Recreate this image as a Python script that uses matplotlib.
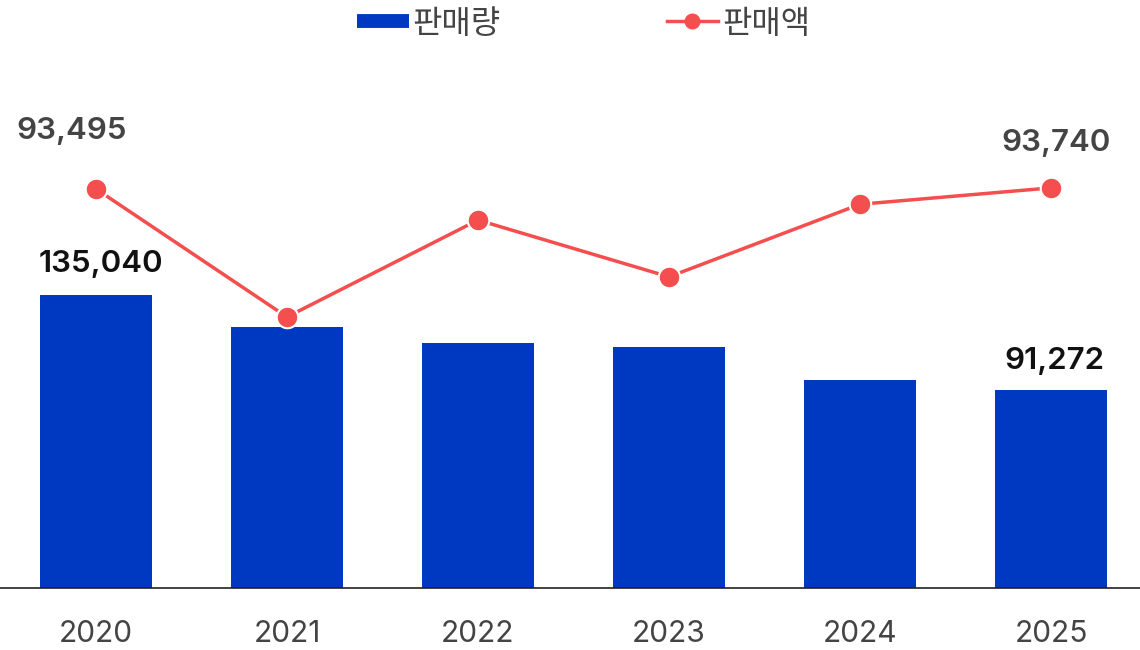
import matplotlib
matplotlib.use("Agg")
import matplotlib.pyplot as plt
from matplotlib.lines import Line2D

plt.rcParams['font.family'] = ['Inter', 'Noto Sans CJK KR', 'DejaVu Sans']

years = ['2020', '2021', '2022', '2023', '2024', '2025']
volume = [135040, 120300, 112900, 111100, 95900, 91272]
amount = [93495, 63500, 86200, 72900, 89900, 93740]
vol_label = '판매량'
amt_label = '판매액'

BLUE = '#0039C1'
RED = '#F54E4E'
TXT = '#444444'

fig = plt.figure(figsize=(11.4, 6.5), dpi=100)
ax = fig.add_axes([0, 62/650, 1.0, 528/650])
ax2 = ax.twinx()

x = list(range(len(years)))
ax.bar(x, volume, width=0.586, color=BLUE, zorder=2)
ax.set_xlim(-0.5026, 5.466)
ax.set_ylim(0, 243350)
ax2.set_ylim(0, 123700)

ax2.plot(x, amount, color=RED, lw=2.5, marker='o', markersize=15.5,
         markerfacecolor=RED, markeredgecolor='white', markeredgewidth=1.5, zorder=3)

for a in (ax, ax2):
    for s in ['top', 'right', 'left']:
        a.spines[s].set_visible(False)
    a.set_yticks([])
ax2.spines['bottom'].set_visible(False)
ax.spines['bottom'].set_color('#222222')
ax.spines['bottom'].set_linewidth(1.2)

ax.set_xticks(x)
ax.set_xticklabels(years, fontsize=21.5, color=TXT)
ax.tick_params(axis='x', length=0, pad=23)

px = 0.72
# bar labels (first and last)
for i, dx, dy in [(0, 5, 31), (5, 3, 29)]:
    ax.annotate(f'{volume[i]:,}', (x[i], volume[i]), xytext=(dx*px, dy*px),
                textcoords='offset points', ha='center', va='center',
                fontsize=22.5, fontweight='semibold', color='#111111')
# line labels (first and last)
for i, dx, dy in [(0, -24, 58), (5, 5, 45)]:
    ax2.annotate(f'{amount[i]:,}', (x[i], amount[i]), xytext=(dx*px, dy*px),
                 textcoords='offset points', ha='center', va='center',
                 fontsize=22.5, fontweight='semibold', color=TXT)

handles = [
    Line2D([0], [0], color=BLUE, lw=10, solid_capstyle='butt'),
    Line2D([0], [0], color=RED, lw=2.5, marker='o', markersize=10.5,
           markerfacecolor=RED, markeredgecolor=RED),
]
leg = fig.legend(handles, [vol_label, amt_label], loc='center', bbox_to_anchor=(0.512, 1 - 24/650),
                 ncol=2, frameon=False, fontsize=23, handlelength=1.6, handletextpad=0.125,
                 columnspacing=5.2, labelcolor=TXT,
                 prop={'size': 23, 'weight': 'medium'})

fig.savefig('out.png', dpi=100)
